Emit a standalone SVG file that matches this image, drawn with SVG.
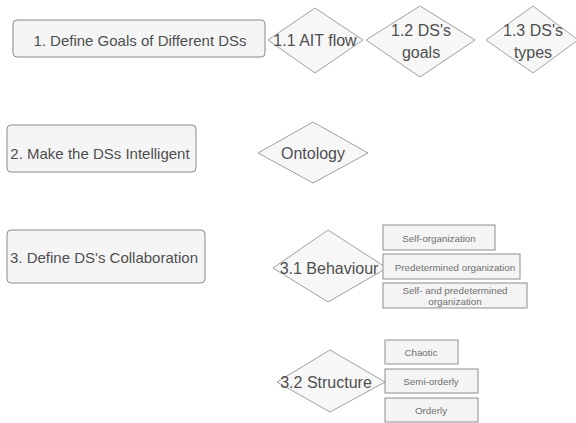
<svg xmlns="http://www.w3.org/2000/svg" width="576" height="423" viewBox="0 0 576 423">
<style>
.bg{fill:#ffffff}
.main{fill:#f5f5f5;stroke:#8a8a8a;stroke-width:1}
.dia{fill:#f7f7f7;stroke:#a0a0a0;stroke-width:1}
.sub{fill:#f4f4f4;stroke:#8e8e8e;stroke-width:1}
.t{font-family:"Liberation Sans",Arial,sans-serif;fill:#4f4f4f;text-anchor:middle;dominant-baseline:central}
.tm{font-size:15px}
.td{font-size:16px}
.ts{font-size:9.8px;fill:#707070}
</style>
<rect class="bg" x="0" y="0" width="576" height="423"/>
<g id="connectors"></g>
<g id="n1"><rect class="main" x="13" y="20" width="252" height="37" rx="4"/><text class="t tm" x="140" y="40">1. Define Goals of Different DSs</text></g>
<g id="n11"><polygon class="dia" points="268,40 315,8 363,40 315,73"/><text class="t td" x="315" y="40">1.1 AIT flow</text></g>
<g id="n12"><polygon class="dia" points="366,40 420,6 475,40 420,77"/><text class="t td" x="421" y="30">1.2 DS's</text><text class="t td" x="421" y="52">goals</text></g>
<g id="n13"><polygon class="dia" points="486,40 533,6 578,40 533,73"/><text class="t td" x="533" y="30">1.3 DS's</text><text class="t td" x="533" y="52">types</text></g>
<g id="n2"><rect class="main" x="7" y="125" width="189" height="47" rx="4"/><text class="t tm" x="100" y="153">2. Make the DSs Intelligent</text></g>
<g id="nOnt"><polygon class="dia" points="258,153 313,122 368,153 313,183"/><text class="t td" x="313" y="153">Ontology</text></g>
<g id="n3"><rect class="main" x="7" y="230" width="198" height="53" rx="4"/><text class="t tm" x="104" y="257">3. Define DS's Collaboration</text></g>
<g id="n31"><polygon class="dia" points="273,268 328,230 387,268 328,302"/><text class="t td" x="329" y="268">3.1 Behaviour</text></g>
<g id="n311"><rect class="sub" x="383" y="225" width="112" height="25"/><text class="t ts" x="439" y="238">Self-organization</text></g>
<g id="n312"><rect class="sub" x="383" y="254" width="137" height="25"/><text class="t ts" x="455" y="267">Predetermined organization</text></g>
<g id="n313"><rect class="sub" x="383" y="283" width="144" height="25"/><text class="t ts" x="455" y="290">Self- and predetermined</text><text class="t ts" x="455" y="301">organization</text></g>
<g id="n32"><polygon class="dia" points="277,382 330,350 385,382 330,412"/><text class="t td" x="326" y="382">3.2 Structure</text></g>
<g id="n321"><rect class="sub" x="385" y="340" width="73" height="24"/><text class="t ts" x="421" y="352">Chaotic</text></g>
<g id="n322"><rect class="sub" x="385" y="369" width="93" height="24"/><text class="t ts" x="431" y="381">Semi-orderly</text></g>
<g id="n323"><rect class="sub" x="385" y="398" width="93" height="24"/><text class="t ts" x="431" y="410">Orderly</text></g>
</svg>
